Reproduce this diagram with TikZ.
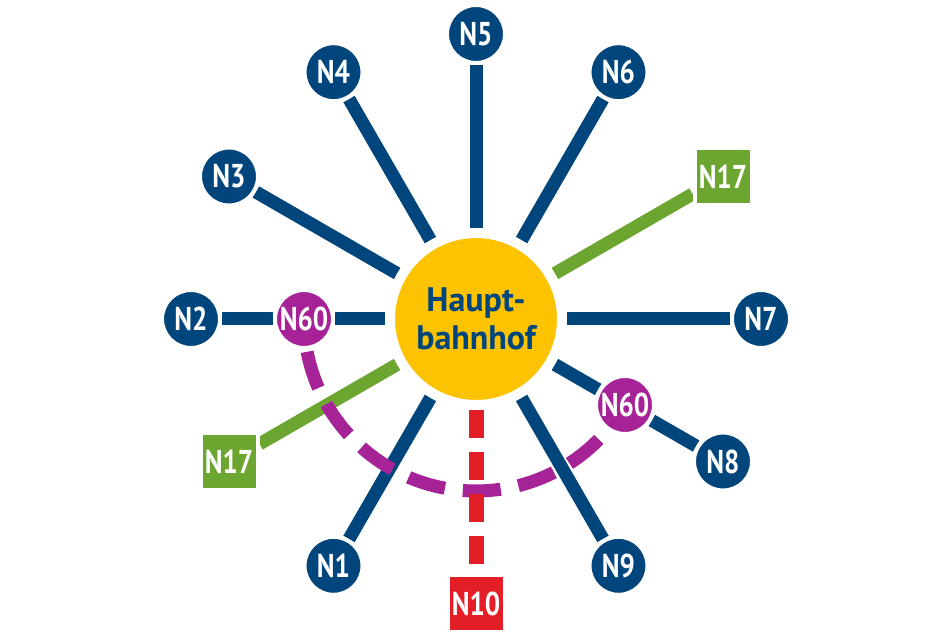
\documentclass[tikz,border=0pt]{standalone}
\usepackage{fontspec}
\setmainfont{PT Sans}
\newfontfamily\narrowfont[FakeStretch=0.82]{PT Sans}
\usetikzlibrary{positioning,backgrounds}
\definecolor{nachtblau}{RGB}{0,69,124}
\definecolor{hbfgelb}{RGB}{253,195,0}
\definecolor{nachtgruen}{RGB}{108,165,48}
\definecolor{nachtlila}{RGB}{165,35,150}
\definecolor{nachtrot}{RGB}{228,30,38}

\begin{document}
\begin{tikzpicture}[x=1pt,y=1pt,
	halt/.style={circle, fill=nachtblau, draw=white, line width=4pt, minimum size=58pt, inner sep=0pt, text=white, font=\narrowfont\bfseries\fontsize{33}{33}\selectfont},
	kasten/.style={rectangle, draw=white, line width=4pt, minimum size=57pt, inner sep=0pt, text=white, font=\narrowfont\bfseries\fontsize{33}{33}\selectfont},
	hub/.style={circle, fill=hbfgelb, draw=white, line width=10pt, minimum size=172pt, inner sep=0pt, align=center, text=nachtblau, font=\bfseries\fontsize{34}{38}\selectfont},
	blaulinie/.style={nachtblau, line width=13pt},
	gruenlinie/.style={nachtgruen, line width=13pt},
	rotlinie/.style={nachtrot, line width=15pt, dash pattern=on 28pt off 14pt},
	lilalinie/.style={nachtlila, line width=13pt, dash pattern=on 38pt off 18pt, dash phase=23pt}]
	\useasboundingbox (0,0) rectangle (951,634);
	% Mitte
	\node[hub] (hbf) at (476,315) {Haupt-\\bahnhof};
	% Linien im Kreis
	\node[halt] (n7) at (761,315) {N7};
	\node[kasten, fill=nachtgruen] (n17a) at (723,457.5) {N17};
	\node[halt] (n6) at (618.5,561.8) {N6};
	\node[halt] (n5) at (476,600) {N5};
	\node[halt] (n4) at (333.5,561.8) {N4};
	\node[halt] (n3) at (229,457.5) {N3};
	\node[halt] (n2) at (191,315) {N2};
	\node[kasten, fill=nachtgruen] (n17b) at (229,172.5) {N17};
	\node[halt] (n1) at (333.5,68.2) {N1};
	\node[kasten, fill=nachtrot] (n10) at (476,30) {N10};
	\node[halt] (n9) at (618.5,68.2) {N9};
	\node[halt] (n8) at (723,172.5) {N8};
	\node[halt, fill=nachtlila] (n60a) at (304,315) {N60};
	\node[halt, fill=nachtlila] (n60b) at (625,229) {N60};
	\begin{scope}[on background layer]
		\draw[blaulinie] (hbf) -- (n7);
		\draw[blaulinie] (hbf) -- (n6);
		\draw[blaulinie] (hbf) -- (n5);
		\draw[blaulinie] (hbf) -- (n4);
		\draw[blaulinie] (hbf) -- (n3);
		\draw[blaulinie] (hbf) -- (n60a);
		\draw[blaulinie] (n60a) -- (n2);
		\draw[blaulinie] (hbf) -- (n1);
		\draw[blaulinie] (hbf) -- (n9);
		\draw[blaulinie] (hbf) -- (n60b);
		\draw[blaulinie] (n60b) -- (n8);
		\draw[gruenlinie] (hbf) -- (n17a);
		\draw[gruenlinie] (hbf) -- (n17b);
		\draw[lilalinie] (n60a.center) arc[start angle=180, end angle=330, radius=172pt];
		\draw[rotlinie] (hbf) -- (n10);
	\end{scope}
\end{tikzpicture}
\end{document}
